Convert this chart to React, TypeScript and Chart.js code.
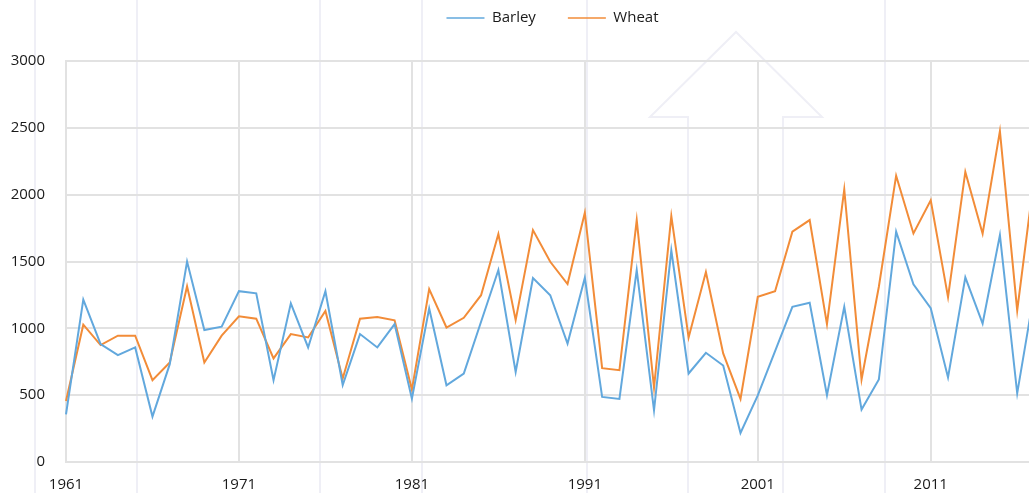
import React, { useEffect, useRef } from 'react';
import { Chart, registerables } from 'chart.js';

Chart.register(...registerables);

const years: string[] = [
  '1961','1962','1963','1964','1965','1966','1967','1968','1969','1970',
  '1971','1972','1973','1974','1975','1976','1977','1978','1979','1980',
  '1981','1982','1983','1984','1985','1986','1987','1988','1989','1990',
  '1991','1992','1993','1994','1995','1996','1997','1998','1999','2000',
  '2001','2002','2003','2004','2005','2006','2007','2008','2009','2010',
  '2011','2012','2013','2014','2015','2016','2017',
];

const barley: number[] = [
  357, 1215, 882, 800, 857, 340, 732, 1500, 987, 1012,
  1278, 1262, 612, 1187, 857, 1277, 575, 957, 857, 1032,
  474, 1149, 574, 662, 1049, 1436, 674, 1376, 1248, 886,
  1378, 487, 472, 1436, 387, 1583, 662, 817, 722, 217,
  499, 829, 1161, 1191, 499, 1161, 392, 617, 1723, 1330,
  1151, 632, 1381, 1036, 1698, 514, 1280,
];

const wheat: number[] = [
  457, 1027, 875, 945, 945, 612, 745, 1315, 745, 945,
  1090, 1072, 775, 957, 932, 1130, 625, 1072, 1085, 1060,
  542, 1293, 1006, 1079, 1248, 1705, 1061, 1735, 1498, 1331,
  1865, 702, 687, 1810, 557, 1840, 931, 1421, 812, 472,
  1236, 1278, 1723, 1810, 1031, 2040, 617, 1311, 2142, 1710,
  1958, 1234, 2170, 1708, 2475, 1134, 2150,
];

const yMin = 0;
const yMax = 3000;
const yStep = 500;
const labelEvery = 10;

const BLUE = '#62a8dd';
const ORANGE = '#f28c38';
const GRID = '#e2e2e2';
const TEXT = '#1a1a1a';

const W = 1105;
const H = 520;

export default function App() {
  const ref = useRef<HTMLCanvasElement>(null);

  useEffect(() => {
    if (!ref.current) return;

    const watermark = {
      id: 'watermark',
      beforeDraw(chart: any) {
        const ctx = chart.ctx;
        ctx.save();
        ctx.strokeStyle = '#efeff6';
        ctx.lineWidth = 2;
        const xs = [35, 137, 320, 422, 587, 885];
        xs.forEach((x) => {
          ctx.beginPath();
          ctx.moveTo(x, 0);
          ctx.lineTo(x, H);
          ctx.stroke();
        });
        ctx.beginPath();
        ctx.moveTo(688, H);
        ctx.lineTo(688, 117);
        ctx.lineTo(650, 117);
        ctx.lineTo(736, 32);
        ctx.lineTo(822, 117);
        ctx.lineTo(783, 117);
        ctx.lineTo(783, H);
        ctx.stroke();
        ctx.restore();
      },
    };

    const legendHeight = {
      id: 'legendHeight',
      beforeInit(chart: any) {
        const orig = chart.legend.fit;
        chart.legend.fit = function () {
          orig.bind(chart.legend)();
          this.height = 82.5;
        };
      },
    };

    const chart = new Chart(ref.current, {
      type: 'line',
      data: {
        labels: years,
        datasets: [
          {
            label: 'Barley',
            data: barley,
            borderColor: BLUE,
            backgroundColor: BLUE,
            borderWidth: 2,
            pointRadius: 0,
            pointStyle: 'line',
            tension: 0,
          },
          {
            label: 'Wheat',
            data: wheat,
            borderColor: ORANGE,
            backgroundColor: ORANGE,
            borderWidth: 2,
            pointRadius: 0,
            pointStyle: 'line',
            tension: 0,
          },
        ],
      },
      options: {
        animation: false,
        responsive: true,
        maintainAspectRatio: false,
        layout: { padding: { top: -21.5, left: 0, right: 0, bottom: 0 } },
        font: { family: "'Open Sans', sans-serif" },
        plugins: {
          tooltip: { enabled: false },
          legend: {
            position: 'top',
            align: 'center',
            labels: {
              usePointStyle: true,
              pointStyleWidth: 38,
              padding: 32,
              color: TEXT,
              font: { family: "'Open Sans', sans-serif", size: 15 },
              generateLabels: (c: any) =>
                Chart.defaults.plugins.legend.labels
                  .generateLabels(c)
                  .map((l: any) => ({ ...l, lineWidth: 1.5 })),
            },
          },
        },
        scales: {
          x: {
            type: 'category',
            position: 'bottom',
            afterFit: (s: any) => {
              s.height = H - 462;
            },
            grid: { color: GRID, lineWidth: 2, drawTicks: false },
            border: { color: GRID, width: 2 },
            ticks: {
              autoSkip: false,
              maxRotation: 0,
              padding: 14,
              color: TEXT,
              font: { family: "'Open Sans', sans-serif", size: 15 },
              callback: (_v: any, i: number) => (i % labelEvery === 0 ? years[i] : null),
            },
          },
          y: {
            type: 'linear',
            position: 'left',
            min: yMin,
            max: yMax,
            afterFit: (s: any) => {
              s.width = 66;
            },
            grid: { color: GRID, lineWidth: 2, drawTicks: false },
            border: { color: GRID, width: 2 },
            ticks: {
              stepSize: yStep,
              padding: 21,
              color: TEXT,
              font: { family: "'Open Sans', sans-serif", size: 15 },
              callback: (v: any) => String(v),
            },
          },
          yRight: {
            type: 'linear',
            position: 'right',
            display: true,
            afterFit: (s: any) => {
              s.width = W - 1034.5;
            },
            grid: { display: false },
            border: { display: false },
            ticks: { display: false },
          },
        },
      },
      plugins: [watermark, legendHeight],
    });

    return () => chart.destroy();
  }, []);

  return (
    <div style={{ position: 'fixed', left: 0, top: 0, width: '100vw', height: '100vh', overflow: 'hidden', background: '#fff' }}>
      <div style={{ position: 'absolute', left: 0, top: 0, width: W, height: H }}>
        <canvas ref={ref} />
      </div>
    </div>
  );
}
